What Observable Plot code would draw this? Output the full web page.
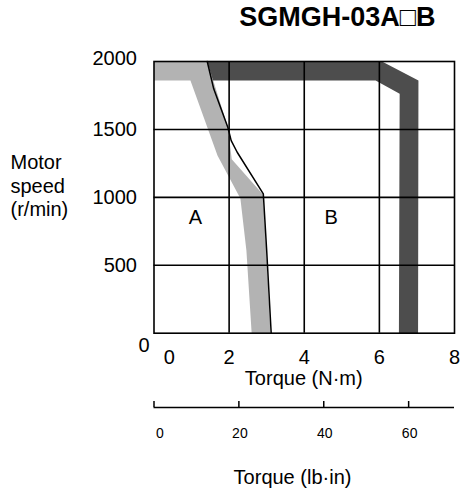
<!DOCTYPE html>
<html><head><meta charset="utf-8">
<script src="https://cdn.jsdelivr.net/npm/d3@7"></script>
<script src="https://cdn.jsdelivr.net/npm/@observablehq/plot@0.6"></script>
<style>body{margin:0;background:#fff} svg{display:block}</style>
</head><body><div id="chart"></div>
<script>
const title = "SGMGH-03A□B";
const yAxisLabel = "Motor\nspeed\n(r/min)";
const xAxisLabel = "Torque (N·m)";
const x2AxisLabel = "Torque (lb·in)";
const xTicks = [0, 2, 4, 6, 8];
const yTicks = [0, 500, 1000, 1500, 2000];
const lbTicks = [0, 20, 40, 60];
const NM_TO_LBIN = 8.8507;
// continuous duty zone (light gray band): [torque N·m, speed r/min]
const contLeftEdge = [[0, 1860], [0.97, 1860], [1.69, 1308], [2.30, 992], [2.46, 609], [2.60, 0]];
const contRightEdge = [[0, 2000], [1.42, 2000], [1.965, 1516], [2.07, 1280], [2.90, 1021], [2.99, 609], [3.10, 0]];
// intermittent duty zone limit (dark gray band)
const intOuterEdge = [[1.42, 2000], [6.07, 2000], [7.04, 1860], [7.03, 0]];
const intInnerEdge = [[1.57, 1860], [5.90, 1860], [6.54, 1762], [6.52, 0]];
// thin boundary line between A and B
const boundary = [[1.417, 2000], [1.59, 1799], [1.965, 1516], [2.055, 1418], [2.215, 1332], [2.91, 1026], [3.0, 609], [3.12, 0]];
const zoneLabels = [{label: "A", torque: 1.10, speed: 854}, {label: "B", torque: 4.72, speed: 854}];

const FONT = "'Liberation Sans', Arial, Helvetica, sans-serif";
const FS = 20;
const contPoly = contRightEdge.concat(contLeftEdge.slice().reverse());
const intPoly = intOuterEdge.concat(intInnerEdge.slice().reverse());
const gridX = xTicks.filter(d => d > 0 && d < 8);
const gridY = yTicks.filter(d => d > 0 && d < 2000);

const main = Plot.plot({
  width: 460, height: 392,
  marginTop: 61, marginBottom: 59.3, marginLeft: 153.5, marginRight: 6,
  x: {domain: [0, 8], axis: null},
  y: {domain: [0, 2000], axis: null},
  style: {fontFamily: FONT, fontSize: FS + "px", color: "black", background: "white"},
  marks: [
    Plot.line(contPoly, {x: d => d[0], y: d => d[1], fill: "#b3b3b3", stroke: "none"}),
    Plot.line(intPoly, {x: d => d[0], y: d => d[1], fill: "#4d4d4d", stroke: "none"}),
    Plot.ruleX(gridX, {stroke: "black", strokeWidth: 1.6}),
    Plot.ruleY(gridY, {stroke: "black", strokeWidth: 1.6}),
    Plot.line(boundary, {x: d => d[0], y: d => d[1], stroke: "black", strokeWidth: 1.5}),
    Plot.frame({stroke: "black", strokeWidth: 1.6}),
    Plot.text(zoneLabels, {x: "torque", y: "speed", text: "label", fontSize: FS}),
    Plot.text(xTicks.filter(d => d > 0), {x: d => d, text: d => String(d), frameAnchor: "bottom", lineAnchor: "middle", dy: 24, fontSize: FS}),
    Plot.text([0], {x: d => d, text: d => String(d), frameAnchor: "bottom", lineAnchor: "middle", dy: 24, dx: 15.3, fontSize: FS}),
    Plot.text(yTicks.filter(d => d > 0 && d < 2000), {y: d => d, text: d => String(d), frameAnchor: "left", textAnchor: "end", lineAnchor: "middle", dx: -17, fontSize: FS}),
    Plot.text([2000], {y: d => d, text: d => String(d), frameAnchor: "left", textAnchor: "end", lineAnchor: "middle", dx: -17, dy: -3, fontSize: FS}),
    Plot.text([0], {y: d => d, text: d => String(d), frameAnchor: "left", textAnchor: "end", lineAnchor: "middle", dx: -4.5, dy: 12.3, fontSize: FS}),
    Plot.text([xAxisLabel], {frameAnchor: "bottom", lineAnchor: "middle", dy: 45.3, dx: -0.5, fontSize: FS}),
    Plot.text([yAxisLabel], {frameAnchor: "left", textAnchor: "start", lineAnchor: "middle", lineHeight: 1.17, dx: -143.5, dy: -12, fontSize: FS}),
    Plot.text([title], {frameAnchor: "top-right", textAnchor: "end", lineAnchor: "middle", dx: -19, dy: -44.5, fontSize: 27, fontWeight: "bold"})
  ]
});

const second = Plot.plot({
  width: 460, height: 100,
  marginTop: 9, marginBottom: 85, marginLeft: 153.5, marginRight: 6,
  x: {domain: [0, 8 * NM_TO_LBIN], axis: null},
  y: {domain: [0, 1], axis: null},
  style: {fontFamily: FONT, fontSize: "14px", color: "black", background: "white"},
  marks: [
    Plot.ruleY([0], {stroke: "black", strokeWidth: 1.7}),
    Plot.ruleX(lbTicks, {x: d => d, stroke: "black", strokeWidth: 1.5}),
    Plot.text(lbTicks.filter(d => d > 0), {x: d => d, text: d => String(d), frameAnchor: "bottom", lineAnchor: "middle", dy: 25.7, dx: 1, fontSize: 14}),
    Plot.text([0], {x: d => d, text: d => String(d), frameAnchor: "bottom", lineAnchor: "middle", dy: 25.7, dx: 6, fontSize: 14}),
    Plot.text([x2AxisLabel], {frameAnchor: "bottom", lineAnchor: "middle", dy: 70, dx: -11.75, fontSize: FS})
  ]
});

const chart = document.getElementById("chart");
chart.appendChild(main);
chart.appendChild(second);
</script>
</body></html>
